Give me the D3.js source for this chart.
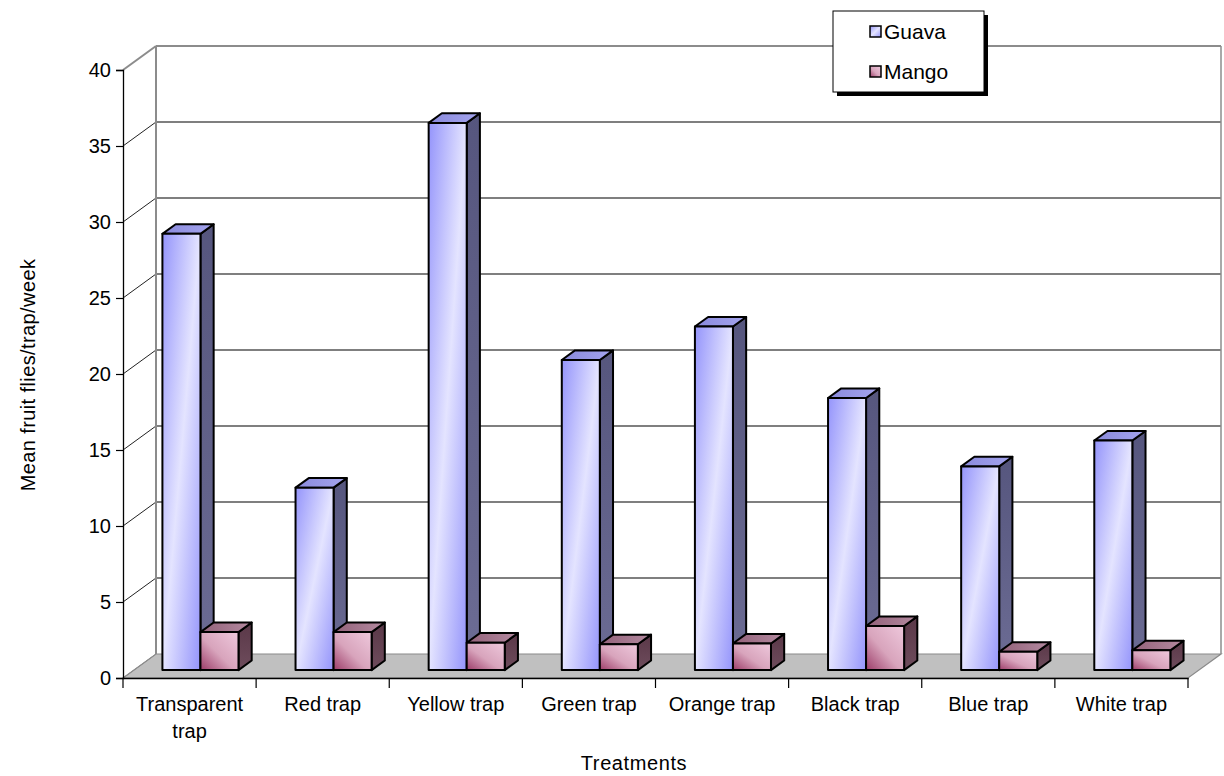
<!DOCTYPE html>
<html>
<head>
<meta charset="utf-8">
<script src="https://cdn.jsdelivr.net/npm/d3@7"></script>
<style>
  html, body { margin: 0; padding: 0; background: #fff; }
  svg { display: block; font-family: "Liberation Sans", Arial, sans-serif; }
</style>
</head>
<body>
<svg id="chart" width="1224" height="776"></svg>
<script>
// Mean fruit flies caught per trap per week, by trap colour
const categories = ["Transparent trap", "Red trap", "Yellow trap", "Green trap",
                    "Orange trap", "Black trap", "Blue trap", "White trap"];
const seriesNames = ["Guava", "Mango"];
const guava = [28.7, 12.0, 36.0, 20.4, 22.6, 17.9, 13.4, 15.1];
const mango = [2.5, 2.5, 1.8, 1.7, 1.75, 2.9, 1.2, 1.3];
const yTicks = [0, 5, 10, 15, 20, 25, 30, 35, 40];

(function () {
const svg = d3.select("#chart");
const FS = 20;

// plot frame (front plane) and 3-D depth offset of the back wall
const pLeft = 123, pRight = 1188, pBottom = 678, pTop = 70;
const depthX = 33, depthY = 24;
const barFront = 0.33, barBack = 0.73;   // bar depth position as fraction of the box depth

const x = d3.scaleBand().domain(categories).range([pLeft, pRight]);
const xs = d3.scaleBand().domain(seriesNames).range([0, x.bandwidth()]).paddingOuter(0.75);
const y = d3.scaleLinear().domain([0, 40]).range([pBottom, pTop]);

const defs = svg.append("defs");
function grad(id, stops, x1, y1, x2, y2) {
  const g = defs.append("linearGradient").attr("id", id)
    .attr("x1", x1).attr("y1", y1).attr("x2", x2).attr("y2", y2);
  stops.forEach(s => g.append("stop").attr("offset", s[0]).attr("stop-color", s[1]));
}
grad("gFront", [[0, "#9494fb"], [0.5, "#e4e4ff"], [1, "#9494fb"]], 0, 0, 1, 1);
grad("gTop", [[0, "#8a8adc"], [1, "#a4a4ee"]], 0, 0, 1, 0);
grad("gSide", [[0, "#56567e"], [1, "#6c6c94"]], 0, 0, 0, 1);
grad("mFront", [[0, "#9c3c68"], [0.45, "#d8a4bc"], [1, "#eec8dc"]], 0, 1, 1, 0);
grad("mTop", [[0, "#93627a"], [1, "#b48aa0"]], 0, 0, 1, 0);
grad("mSide", [[0, "#5a3848"], [1, "#6e4c5c"]], 0, 0, 0, 1);
const fills = {
  Guava: { front: "url(#gFront)", top: "url(#gTop)", side: "url(#gSide)" },
  Mango: { front: "url(#mFront)", top: "url(#mTop)", side: "url(#mSide)" }
};

// floor
const floorPts = [[pLeft, pBottom], [pLeft + depthX, pBottom - depthY],
                  [pRight + depthX, pBottom - depthY], [pRight, pBottom]];
svg.append("polygon").attr("points", floorPts.join(" "))
  .attr("fill", "#c0c0c0").attr("stroke", "#8a8a8a").attr("stroke-width", 1.2);

// back wall gridlines and side-wall diagonals
const g = svg.append("g");
yTicks.forEach(t => {
  const yf = y(t), yb = y(t) - depthY;
  if (t > 0) {
    g.append("line").attr("x1", pLeft + depthX).attr("x2", pRight + depthX)
      .attr("y1", yb).attr("y2", yb)
      .attr("stroke", t === 40 ? "#8c8c8c" : "#555").attr("stroke-width", t === 40 ? 2 : 1.4);
  }
  g.append("line").attr("x1", pLeft).attr("y1", yf).attr("x2", pLeft + depthX).attr("y2", yb)
    .attr("stroke", (t === 40 || t === 0) ? "#8c8c8c" : "#222").attr("stroke-width", t === 40 ? 2 : 1);
});
// wall edges
g.append("line").attr("x1", pLeft + depthX).attr("x2", pLeft + depthX)
  .attr("y1", y(40) - depthY).attr("y2", pBottom - depthY).attr("stroke", "#8c8c8c").attr("stroke-width", 2);
g.append("line").attr("x1", pRight + depthX).attr("x2", pRight + depthX)
  .attr("y1", y(40) - depthY).attr("y2", pBottom - depthY).attr("stroke", "#8c8c8c").attr("stroke-width", 1.5);

// bars (drawn left to right so each mango box covers the guava side face)
const data = [];
categories.forEach((c, i) => {
  data.push({ cat: c, series: "Guava", value: guava[i] });
  data.push({ cat: c, series: "Mango", value: mango[i] });
});
const fx = barFront * depthX, fy = barFront * depthY;
const dx = (barBack - barFront) * depthX, dy = (barBack - barFront) * depthY;
const bars = svg.append("g").attr("stroke", "#000").attr("stroke-width", 2).attr("stroke-linejoin", "round");
data.forEach(d => {
  const x0 = x(d.cat) + xs(d.series) + fx;
  const x1 = x0 + xs.bandwidth();
  const y0 = y(0) - fy;
  const y1 = y(d.value) - fy;
  const f = fills[d.series];
  const b = bars.append("g");
  b.append("polygon").attr("fill", f.side)
    .attr("points", [[x1, y1], [x1 + dx, y1 - dy], [x1 + dx, y0 - dy], [x1, y0]].join(" "));
  b.append("polygon").attr("fill", f.top)
    .attr("points", [[x0, y1], [x0 + dx, y1 - dy], [x1 + dx, y1 - dy], [x1, y1]].join(" "));
  b.append("rect").attr("fill", f.front)
    .attr("x", x0).attr("y", y1).attr("width", x1 - x0).attr("height", y0 - y1);
});

// axes
const yAxis = d3.axisLeft(y).tickValues(yTicks).tickSize(7).tickPadding(5);
const ya = svg.append("g").attr("transform", `translate(${pLeft},0)`).call(yAxis);
ya.select(".domain").attr("stroke", "#000").attr("stroke-width", 1.3);
ya.selectAll(".tick line").attr("stroke", "#000").attr("stroke-width", 1.2);
ya.selectAll("text").attr("font-size", FS).attr("fill", "#000")
  .attr("font-family", "'Liberation Sans', Arial, sans-serif");

const xAxis = d3.axisBottom(x).tickSize(0).tickFormat("");
const xa = svg.append("g").attr("transform", `translate(0,${pBottom})`).call(xAxis);
xa.select(".domain").attr("stroke", "#000").attr("stroke-width", 1.3);
// category boundary ticks
const bounds = categories.map(c => x(c)).concat([pRight]);
svg.append("g").selectAll("line").data(bounds).join("line")
  .attr("x1", d => d).attr("x2", d => d).attr("y1", pBottom).attr("y2", pBottom + 10)
  .attr("stroke", "#000").attr("stroke-width", 1.2);

// category labels, wrapped where they do not fit the band
const labels = svg.append("g").attr("font-size", FS).attr("text-anchor", "middle").attr("fill", "#000");
categories.forEach(c => {
  const cx = x(c) + x.bandwidth() / 2;
  const lines = c === "Transparent trap" ? ["Transparent", "trap"] : [c];
  const t = labels.append("text").attr("x", cx).attr("y", 711);
  lines.forEach((ln, k) => t.append("tspan").attr("x", cx).attr("dy", k === 0 ? 0 : 27).text(ln));
});

// axis titles
svg.append("text").attr("x", 634).attr("y", 770)
  .attr("text-anchor", "middle").attr("font-size", FS).attr("letter-spacing", 0.6).text("Treatments");
svg.append("text").attr("transform", "translate(35,375) rotate(-90)")
  .attr("text-anchor", "middle").attr("font-size", FS).attr("letter-spacing", 0.4)
  .text("Mean fruit flies/trap/week");

// legend
const lg = svg.append("g").attr("transform", "translate(833,11)");
lg.append("rect").attr("x", 4).attr("y", 4).attr("width", 151).attr("height", 81).attr("fill", "#000");
lg.append("rect").attr("width", 151).attr("height", 81).attr("fill", "#fff")
  .attr("stroke", "#000").attr("stroke-width", 1);
seriesNames.forEach((s, i) => {
  const yy = 21 + i * 40;
  lg.append("rect").attr("x", 37).attr("y", yy - 6).attr("width", 11).attr("height", 11)
    .attr("fill", fills[s].front).attr("stroke", "#000").attr("stroke-width", 1.5);
  lg.append("text").attr("x", 51).attr("y", yy + 7).attr("font-size", 21).text(s);
});
})();
</script>
</body>
</html>
